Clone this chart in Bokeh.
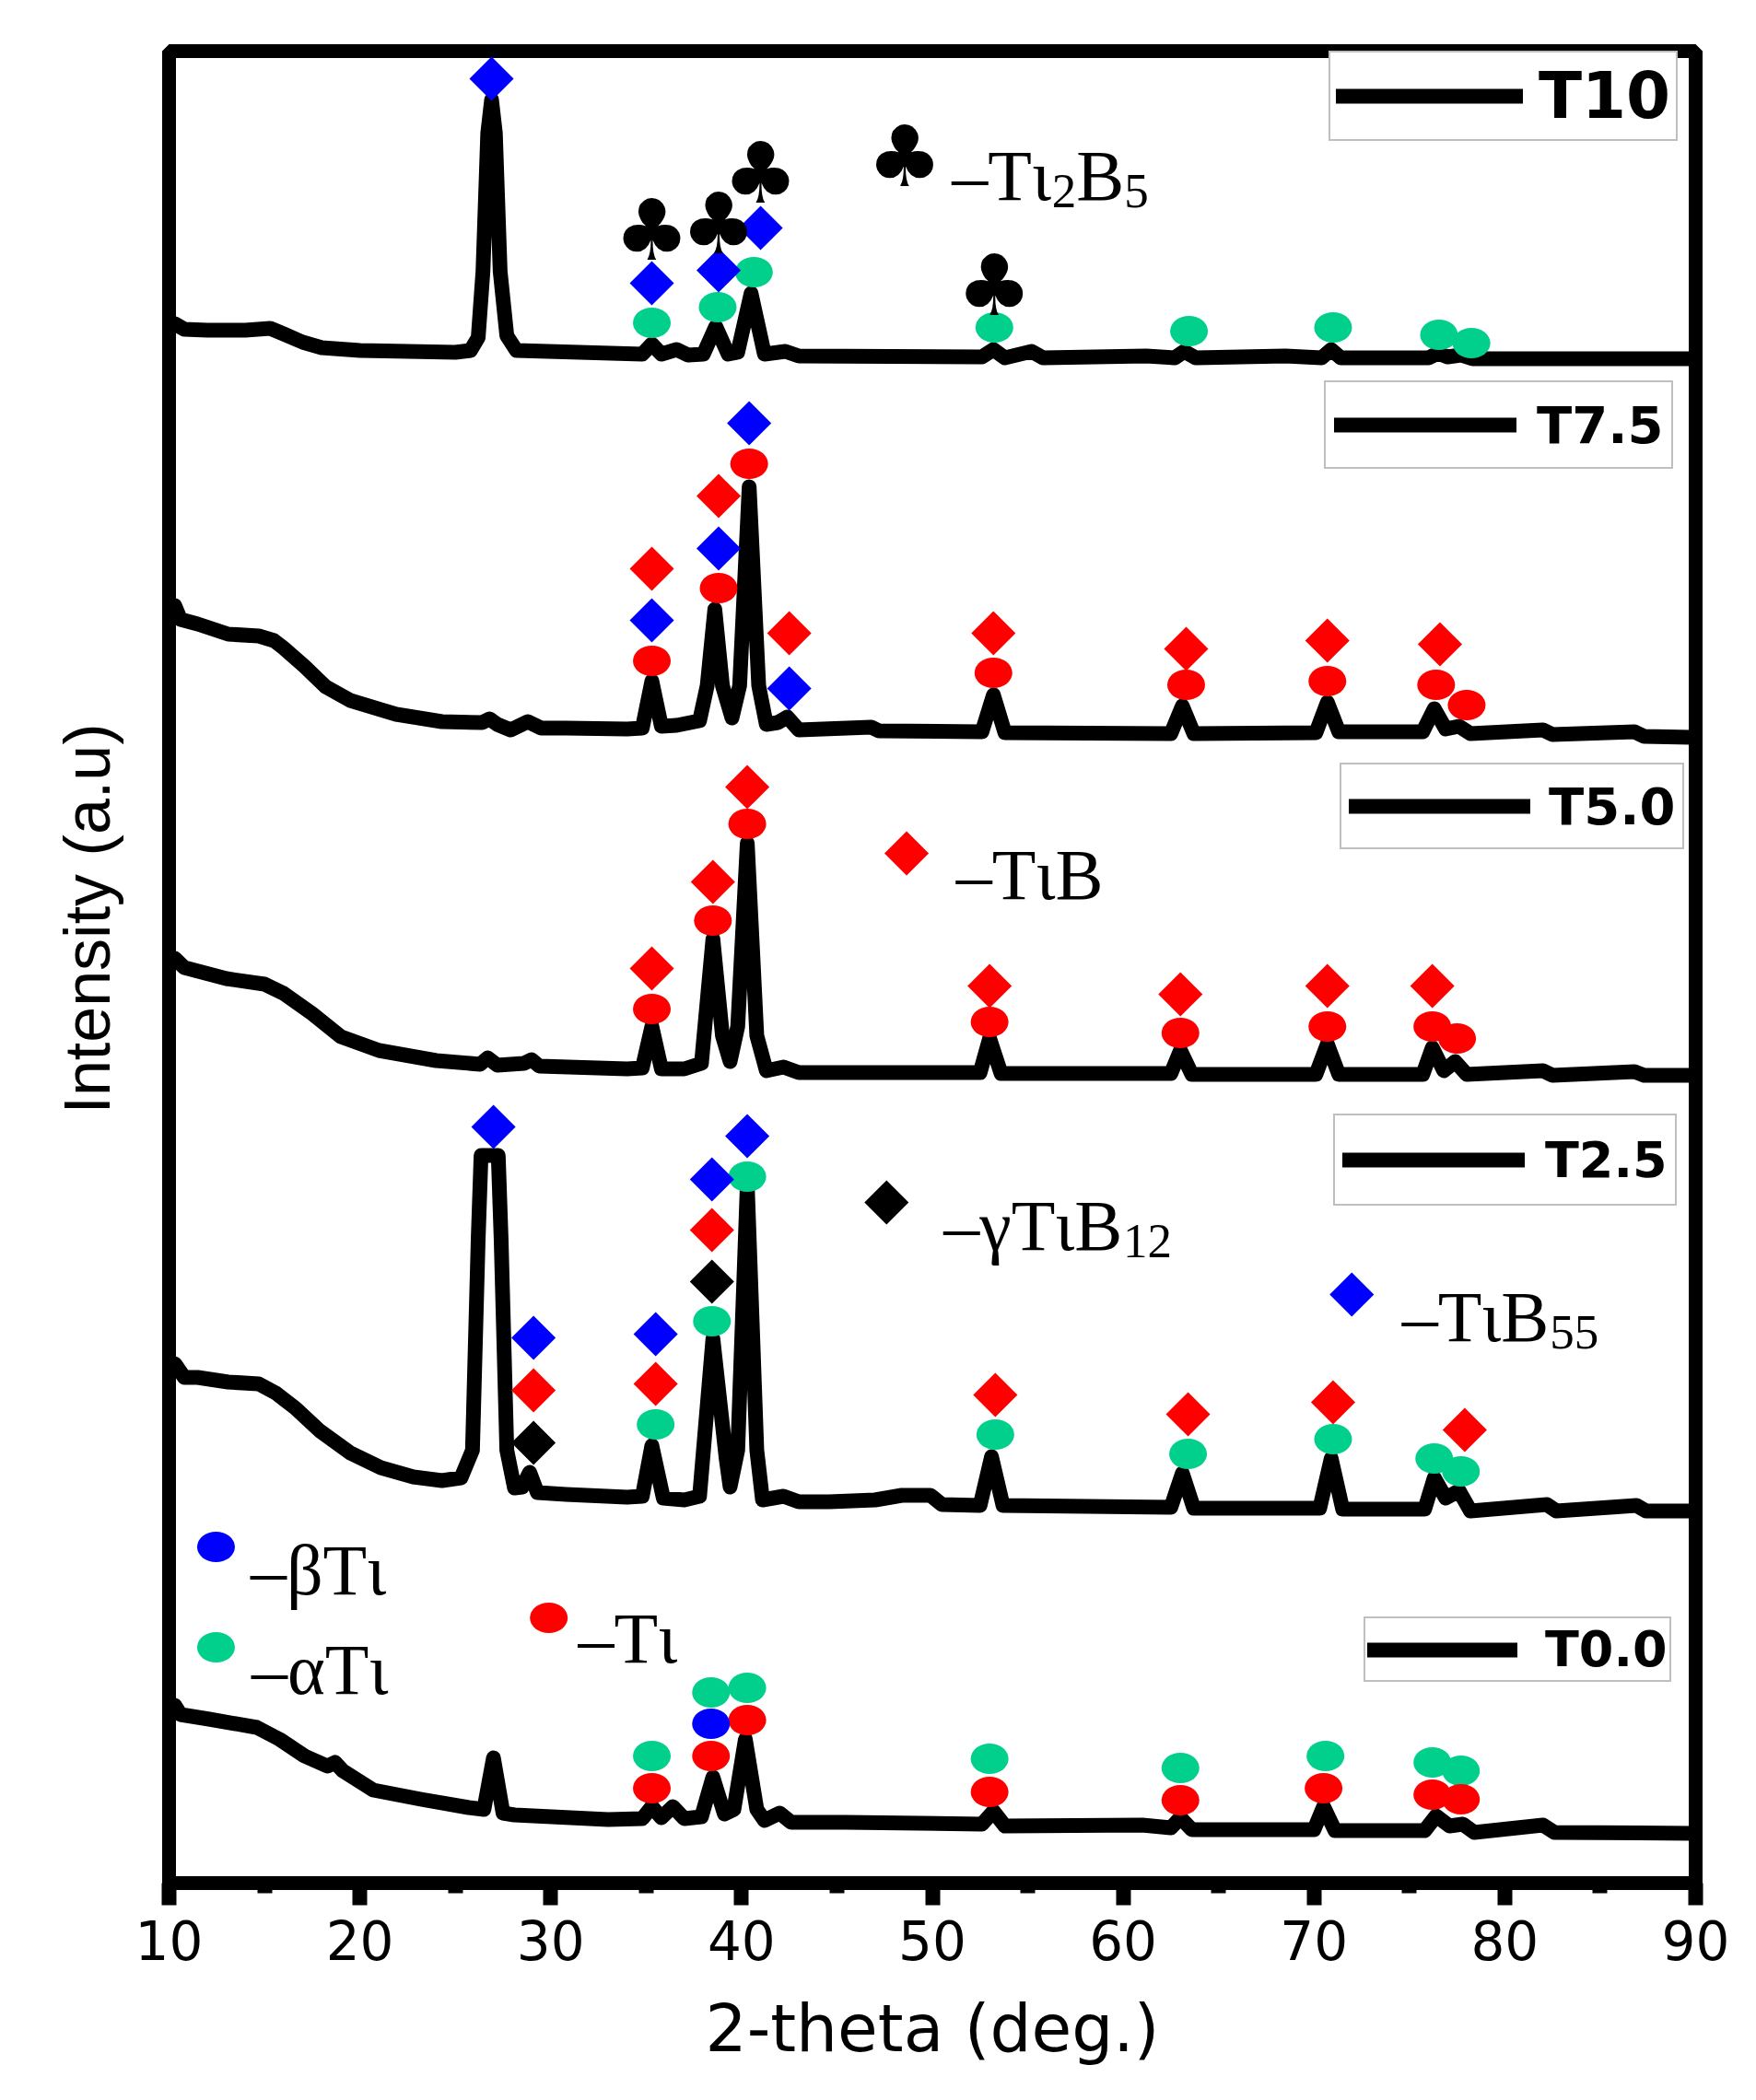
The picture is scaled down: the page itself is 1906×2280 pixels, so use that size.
import math
from bokeh.plotting import figure
from bokeh.models import Range1d, Legend, LegendItem, FixedTicker, Title
from bokeh.core.properties import value
from bokeh.embed import file_html
from bokeh.resources import INLINE

# ---------------- data (2-theta in degrees, intensity in a.u., stacked) ----------------
T10_x = [10.3, 10.8, 12.0, 14.0, 15.3, 16.0, 17.0, 18.0, 20.0, 25.0, 25.8, 26.2, 26.45, 26.7, 26.9, 27.1, 27.35, 27.7, 28.2,
         34.8, 35.3, 35.8, 36.6, 37.2, 38.0, 38.65, 39.3, 39.8, 40.5, 41.2, 42.3, 43.0, 52.6, 53.2, 53.8, 55.2, 55.8,
         61.2, 62.7, 63.2, 63.8, 68.5, 70.4, 70.9, 71.4, 76.0, 76.5, 77.0, 77.7, 78.3, 89.7]
T10_y = [1693, 1687, 1686, 1686, 1688, 1682, 1673, 1667, 1664, 1662, 1664, 1678, 1750, 1900, 1936, 1900, 1750, 1680, 1664,
         1660, 1671, 1660, 1665, 1659, 1660, 1690, 1660, 1662, 1726, 1660, 1663, 1658, 1657, 1665, 1656, 1663, 1656,
         1658, 1656, 1663, 1656, 1658, 1656, 1665, 1656, 1656, 1661, 1657, 1659, 1655, 1655]

T75_x = [10.3, 10.6, 11.5, 13.1, 14.7, 15.5, 16.0, 17.1, 18.2, 19.5, 21.9, 24.3, 26.4, 26.8, 27.2, 27.9, 28.8, 29.5, 30.8,
         34.0, 34.8, 35.3, 35.8, 36.6, 37.8, 38.2, 38.6, 39.0, 39.5, 39.9, 40.4, 40.9, 41.3, 41.9, 42.4, 43.0, 46.8,
         47.2, 52.6, 53.2, 53.8, 62.5, 63.1, 63.7, 70.1, 70.7, 71.3, 75.7, 76.3, 76.9, 77.6, 78.2, 82.0, 82.5, 86.8,
         87.3, 89.7]
T75_y = [1387, 1372, 1367, 1356, 1354, 1349, 1341, 1321, 1299, 1284, 1269, 1261, 1260, 1264, 1258, 1252, 1261, 1254, 1254,
         1253, 1254, 1305, 1256, 1257, 1262, 1300, 1383, 1300, 1265, 1300, 1516, 1300, 1258, 1260, 1266, 1252, 1255,
         1251, 1250, 1290, 1249, 1248, 1278, 1248, 1249, 1282, 1250, 1250, 1275, 1253, 1256, 1248, 1252, 1247, 1250,
         1245, 1244]

T50_x = [10.3, 10.8, 13.0, 15.0, 16.0, 17.5, 19.0, 21.0, 24.0, 26.3, 26.7, 27.2, 28.6, 29.0, 29.4, 34.0, 34.8, 35.3,
         35.8, 37.0, 37.9, 38.5, 39.0, 39.4, 39.8, 40.3, 40.8, 41.3, 42.2, 43.0, 52.5, 53.0, 53.6, 62.5, 63.0, 63.6,
         70.1, 70.7, 71.3, 75.7, 76.2, 76.8, 77.4, 78.0, 82.0, 82.5, 86.8, 87.3, 89.7]
T50_y = [1004, 994, 982, 976, 966, 944, 919, 904, 893, 889, 896, 888, 890, 894, 887, 884, 885, 930,
         884, 884, 890, 1025, 920, 892, 930, 1129, 920, 882, 886, 880, 880, 917, 879, 879, 904, 878,
         878, 911, 878, 878, 907, 882, 892, 878, 882, 877, 881, 877, 877]

T25_x = [10.3, 10.8, 11.5, 13.1, 14.7, 15.6, 16.6, 17.9, 19.5, 21.1, 22.8, 24.3, 25.3, 25.9, 26.2, 26.35, 27.25, 27.4,
         27.7, 28.1, 28.5, 28.9, 29.3, 30.8, 34.0, 34.8, 35.3, 35.9, 37.0, 37.8, 38.5, 39.2, 39.4, 39.8, 40.3, 40.8,
         41.1, 42.2, 43.0, 44.6, 47.0, 48.4, 49.9, 50.5, 52.5, 53.1, 53.7, 62.5, 63.1, 63.7, 70.3, 70.9, 71.5, 75.8,
         76.3, 76.9, 77.6, 78.2, 82.2, 82.7, 86.9, 87.4, 89.7]
T25_y = [564, 549, 549, 544, 542, 532, 516, 491, 467, 451, 441, 437, 440, 470, 700, 790, 790, 700,
         470, 429, 430, 446, 424, 422, 419, 420, 475, 418, 416, 420, 591, 460, 430, 470, 758, 470,
         416, 420, 414, 414, 416, 421, 421, 411, 410, 463, 410, 408, 445, 407, 407, 461, 406, 406,
         440, 418, 426, 404, 411, 404, 410, 404, 404]

T00_x = [10.3, 10.6, 12.1, 14.6, 15.8, 17.1, 18.3, 18.7, 19.1, 20.7, 23.2, 25.7, 26.5, 27.0, 27.5, 28.1, 33.0, 34.8,
         35.3, 35.8, 36.4, 37.0, 37.9, 38.5, 39.1, 39.6, 40.2, 40.8, 41.2, 42.0, 42.6, 45.4, 52.6, 53.2, 53.8, 61.0,
         62.5, 63.0, 63.6, 70.0, 70.5, 71.1, 75.8, 76.4, 77.1, 77.8, 78.4, 82.0, 82.6, 89.8]
T00_y = [193, 183, 178, 169, 156, 138, 127, 131, 122, 101, 91, 82, 80, 136, 76, 74, 69, 70,
         83, 71, 83, 70, 72, 115, 75, 80, 156, 80, 68, 76, 66, 66, 64, 78, 62, 63,
         60, 71, 58, 58, 83, 57, 57, 73, 62, 64, 55, 63, 55, 54]

sample_names = ["T10", "T7.5", "T5.0", "T2.5", "T0.0"]

# phase identification markers (2-theta, stacked intensity)
alphaTi_x = [35.3, 38.75, 40.65, 53.25, 63.45, 71.0, 76.55, 78.25,
             35.5, 38.45, 40.3, 53.3, 63.4, 71.0, 76.3, 77.7,
             35.3, 38.4, 40.3, 53.0, 63.0, 70.6, 76.2, 77.7]
alphaTi_y = [1694, 1711, 1749, 1689, 1685, 1689, 1681, 1672,
             498, 610, 767, 487, 466, 482, 461, 447,
             138, 207, 212, 135, 125, 138, 131, 122]
Ti_x = [35.3, 38.8, 40.4, 53.2, 63.3, 70.7, 76.4, 78.0,
        35.3, 38.5, 40.3, 53.0, 63.0, 70.7, 76.2, 77.5,
        35.3, 38.4, 40.3, 53.0, 63.0, 70.5, 76.2, 77.7]
Ti_y = [1327, 1406, 1541, 1314, 1301, 1305, 1301, 1279,
        949, 1045, 1150, 935, 923, 930, 930, 917,
        103, 138, 177, 99, 90, 103, 96, 91]
betaTi_x = [38.4]
betaTi_y = [173]
TiB55_x = [26.9, 35.3, 38.8, 41.0, 35.3, 38.8, 40.4, 42.5, 27.0, 29.1, 35.5, 38.45, 40.3]
TiB55_y = [1959, 1737, 1751, 1797, 1371, 1449, 1585, 1297, 821, 592, 596, 764, 811]
TiB_x = [35.3, 38.8, 42.5, 53.2, 63.3, 70.7, 76.6,
         35.3, 38.5, 40.3, 53.0, 63.0, 70.7, 76.2,
         29.1, 35.5, 38.45, 53.3, 63.4, 71.0, 77.9]
TiB_y = [1427, 1506, 1357, 1357, 1340, 1349, 1345,
         993, 1087, 1190, 974, 965, 974, 974,
         535, 542, 709, 530, 509, 522, 492]
gTiB12_x = [29.1, 38.45]
gTiB12_y = [478, 653]
Ti2B5_x = [35.3, 38.8, 41.0, 53.25]
Ti2B5_y = [1794, 1801, 1856, 1734]

# phase key symbols
key_circle = [(12.46, 365, "#0000FF"), (12.46, 256, "#00D08C"), (29.9, 288, "#FF0000")]
key_diamond = [(48.65, 1118, "#FF0000"), (47.6, 739, "#000000"), (71.98, 639, "#0000FF")]
key_club = [(48.55, 1874)]
# phase key labels: segments (text, is_subscript), centre 2-theta, baseline intensity
key_labels = [
    ([("\u2013T\u03b9", 0), ("2", 1), ("B", 0), ("5", 1)], 56.18, 1854),
    ([("\u2013T\u03b9B", 0)], 55.12, 1095),
    ([("\u2013\u03b3T\u03b9B", 0), ("12", 1)], 56.57, 714),
    ([("\u2013T\u03b9B", 0), ("55", 1)], 79.76, 615),
    ([("\u2013\u03b2T\u03b9", 0)], 17.83, 340),
    ([("\u2013\u03b1T\u03b9", 0)], 17.97, 232),
    ([("\u2013T\u03b9", 0)], 34.06, 266),
]

x_ticks = [10, 20, 30, 40, 50, 60, 70, 80, 90]
x_minor = [15, 25, 35, 45, 55, 65, 75, 85]

# ---------------- figure ----------------
W, H = 1904, 2276
LEFT, RIGHT, TOP, BOTTOM = 183, 64, 55, 232
p = figure(width=W, height=H, x_range=Range1d(10, 90), y_range=Range1d(0, 1989),
           output_backend="svg", toolbar_location=None,
           min_border_left=LEFT, min_border_right=RIGHT, min_border_top=TOP, min_border_bottom=BOTTOM)
p.background_fill_color = "white"
p.border_fill_color = "white"
p.outline_line_color = "black"
p.outline_line_width = 15
p.xgrid.visible = False
p.ygrid.visible = False

ax = p.xaxis[0]
ax.ticker = FixedTicker(ticks=x_ticks, minor_ticks=x_minor)
ax.axis_line_width = 15
ax.major_tick_out = 24
ax.major_tick_in = 0
ax.major_tick_line_width = 16
ax.minor_tick_out = 11
ax.minor_tick_in = 0
ax.minor_tick_line_width = 16
ax.major_label_text_font = "DejaVu Sans"
ax.major_label_text_font_size = "58px"
ax.major_label_text_color = "black"
ax.major_label_standoff = 16
ax.axis_label = "2-theta (deg.)"
ax.axis_label_text_font = "DejaVu Sans"
ax.axis_label_text_font_size = "71px"
ax.axis_label_text_font_style = "normal"
ax.axis_label_text_color = "black"
ax.axis_label_standoff = 30

# intensity is in arbitrary units: no y ticks, only a title in the left border
p.yaxis.visible = False
p.add_layout(Title(text="Intensity (a.u)", align="right", offset=730, standoff=96,
                   text_font="Liberation Sans", text_font_size="70px", text_font_style="normal",
                   text_color="black", vertical_align="top"), "left")

traces = [(T10_x, T10_y), (T75_x, T75_y), (T50_x, T50_y), (T25_x, T25_y), (T00_x, T00_y)]
renderers = []
for (xs, ys) in traces:
    r = p.line(xs, ys, line_color="black", line_width=16, line_join="round", line_cap="round")
    renderers.append(r)

# markers
GREEN, RED, BLUE = "#00D08C", "#FF0000", "#0000FF"
EW, EH = 41, 33
def ellipses(xs, ys, color):
    p.ellipse(x=xs, y=ys, width=EW, height=EH, width_units="screen", height_units="screen",
              fill_color=color, line_color=None)
ellipses(alphaTi_x, alphaTi_y, GREEN)
ellipses(Ti_x, Ti_y, RED)
ellipses(betaTi_x, betaTi_y, BLUE)
DS = 34
def diamonds(xs, ys, color):
    p.scatter(x=xs, y=ys, marker="square", angle=math.pi / 4, size=DS, fill_color=color, line_color=None)
diamonds(TiB55_x, TiB55_y, BLUE)
diamonds(TiB_x, TiB_y, RED)
diamonds(gTiB12_x, gTiB12_y, "black")
CLUB_FONT = "92px"
p.text(x=Ti2B5_x, y=Ti2B5_y, text=["\u2663"] * len(Ti2B5_x), text_font=value("DejaVu Sans"),
       text_font_size=CLUB_FONT, text_align="center", text_baseline="middle", text_color="black")

# phase keys
p.ellipse(x=[k[0] for k in key_circle], y=[k[1] for k in key_circle], width=EW, height=EH,
          width_units="screen", height_units="screen", fill_color=[k[2] for k in key_circle], line_color=None)
p.scatter(x=[k[0] for k in key_diamond], y=[k[1] for k in key_diamond], marker="square", angle=math.pi / 4,
          size=DS, fill_color=[k[2] for k in key_diamond], line_color=None)
p.text(x=[k[0] for k in key_club], y=[k[1] for k in key_club], text=["\u2663"], text_font=value("DejaVu Sans"),
       text_font_size=CLUB_FONT, text_align="center", text_baseline="middle", text_color="black")

SERIF_ADV = {"\u2013": 0.5, "T": 0.611, "\u03b9": 0.28, "B": 0.667, "\u03b3": 0.44, "\u03b2": 0.5,
             "\u03b1": 0.55, "1": 0.5, "2": 0.5, "5": 0.5}
MAIN_PX, SUB_PX, SUB_DROP = 78, 53, 17
px_per_deg = (W - LEFT - RIGHT) / 80.0
mx, my, mt, sx, sy, st = [], [], [], [], [], []
for segs, cx, base in key_labels:
    widths = [sum(SERIF_ADV.get(c, 0.5) for c in s) * (SUB_PX if sub else MAIN_PX) for s, sub in segs]
    cur = cx - sum(widths) / 2.0 / px_per_deg
    for (s, sub), w in zip(segs, widths):
        if sub:
            sx.append(cur); sy.append(base - SUB_DROP); st.append(s)
        else:
            mx.append(cur); my.append(base); mt.append(s)
        cur += w / px_per_deg
p.text(x=mx, y=my, text=mt, text_font=value("Liberation Serif"), text_font_size=f"{MAIN_PX}px",
       text_align="left", text_baseline="alphabetic", text_color="black")
p.text(x=sx, y=sy, text=st, text_font=value("Liberation Serif"), text_font_size=f"{SUB_PX}px",
       text_align="left", text_baseline="alphabetic", text_color="black")

# per-sample legend boxes: (frame-x, frame-y of bottom-left, glyph width, font, inner height, padding, standoff)
legend_style = [(1259, 1891, 203, "69px", 82, 6, 17), (1254, 1535, 198, "56px", 74, 9, 22),
                (1271, 1122, 197, "56px", 74, 8, 20), (1264, 735, 198, "54px", 80, 8, 22),
                (1297, 218, 163, "54px", 60, 2, 30)]
for name, r, (lx, ly, gw, fs, ih, pad, ls) in zip(sample_names, renderers, legend_style):
    lg = Legend(items=[LegendItem(label=name, renderers=[r])], location=(lx, ly),
                glyph_width=gw, glyph_height=ih, label_height=ih, padding=pad, margin=0,
                label_standoff=ls, spacing=0,
                label_text_font="DejaVu Sans", label_text_font_style="bold", label_text_font_size=fs,
                label_text_color="black",
                border_line_color="#7f7f7f", border_line_width=2, background_fill_color="white",
                background_fill_alpha=1.0)
    p.add_layout(lg, "center")

open("out.html", "w").write(file_html(p, INLINE))
